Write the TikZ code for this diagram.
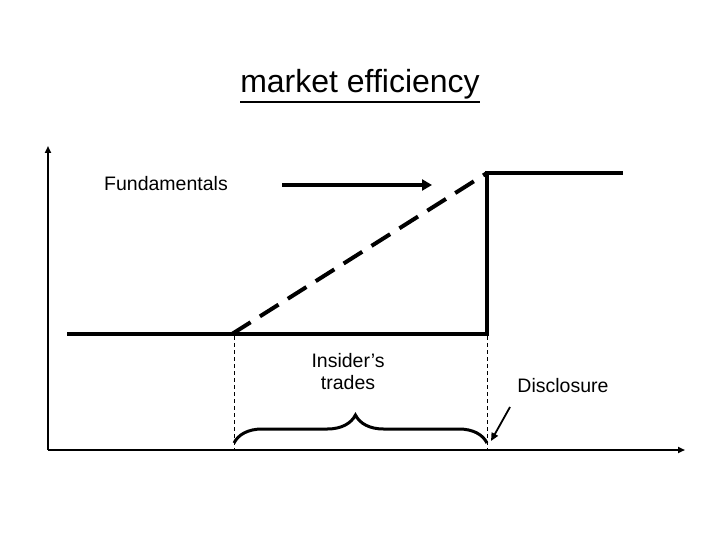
\documentclass[tikz,border=0pt]{standalone}
\usepackage{fontspec}
\setmainfont{Liberation Sans}
\usetikzlibrary{arrows.meta,decorations.pathreplacing}
\begin{document}
\begin{tikzpicture}[x=1pt,y=-1pt,
  axis/.style={line width=2pt,-{Triangle[length=7pt,width=6pt]}},
  curve/.style={line width=4pt},
  guide/.style={line width=0.8pt,dashed,dash pattern=on 4pt off 3pt},
  lbl/.style={font=\fontsize{19.5}{22}\selectfont,align=center,inner sep=0pt}]
\useasboundingbox (0,0) rectangle (720,540);
% axes
\coordinate (O) at (48,450);
\coordinate (Ytop) at (48,146);
\coordinate (Xend) at (685,450);
\draw[axis] (O) -- (Ytop);
\draw[axis] (O) -- (Xend);
% price path
\coordinate (L0) at (67,334);
\coordinate (A) at (232,334);
\coordinate (B) at (487,334);
\coordinate (C) at (487,173);
\coordinate (D) at (623,173);
\draw[curve] (L0) -- (B) -- (C) -- (D);
\draw[curve,dash pattern=on 22pt off 11pt] (A) -- (C);
% fundamentals arrow
\coordinate (F1) at (282,185);
\coordinate (F2) at (432,185);
\draw[line width=3.5pt,-{Triangle[length=10pt,width=11pt]}] (F1) -- (F2);
\node[lbl] (fund) at (166,184) {Fundamentals};
% guides
\coordinate (Ga) at (234,336);
\coordinate (Gab) at (234,450);
\coordinate (Gb) at (487,336);
\coordinate (Gbb) at (487,450);
\draw[guide] (Ga) -- (Gab);
\draw[guide] (Gb) -- (Gbb);
% brace
\coordinate (Ba) at (234,443);
\coordinate (Bb) at (487,443);
\draw[line width=3pt,decorate,decoration={brace,amplitude=28pt,aspect=0.48}] (Ba) -- (Bb);
\node[lbl] (ins) at (348,372) {Insider’s\\trades};
\node[lbl] (disc) at (563,386) {Disclosure};
\coordinate (Ds) at (510,407);
\coordinate (De) at (491,441);
\draw[line width=1.8pt,-{Triangle[length=8pt,width=7pt]}] (Ds) -- (De);
% title
\node[font=\fontsize{32}{36}\selectfont,inner sep=0pt] (title) at (360,84) {market efficiency};
\draw[line width=2.6pt] ([yshift=-3pt]title.south west) -- ([yshift=-3pt]title.south east);
\end{tikzpicture}
\end{document}
